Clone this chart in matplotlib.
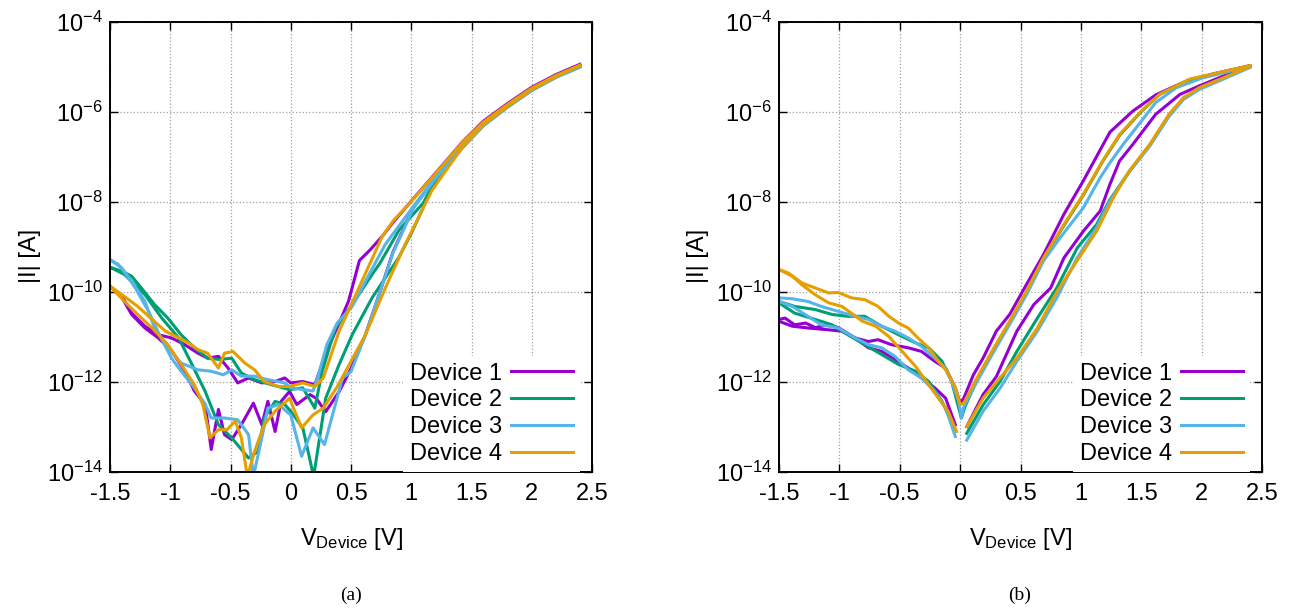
import numpy as np
import matplotlib
matplotlib.use("Agg")
import matplotlib.pyplot as plt
from matplotlib.ticker import NullLocator

plt.rcParams["font.family"] = ["Liberation Sans", "DejaVu Sans"]
plt.rcParams["mathtext.fontset"] = "custom"
plt.rcParams["mathtext.rm"] = "Liberation Sans"
plt.rcParams["mathtext.it"] = "Liberation Sans:italic"
plt.rcParams["mathtext.default"] = "regular"

nan = float("nan")

labels = ["Device 1", "Device 2", "Device 3", "Device 4"]
colors = ["#9400D3", "#009E73", "#56B4E9", "#E69F00"]

xticks = [-1.5, -1.0, -0.5, 0.0, 0.5, 1.0, 1.5, 2.0, 2.5]
xtick_labels = ["-1.5", "-1", "-0.5", "0", "0.5", "1", "1.5", "2", "2.5"]
yticks = [1e-14, 1e-12, 1e-10, 1e-8, 1e-6, 1e-4]

# ---- panel (a): log10 |I|, two branches per device ----
a1_up_v = [-1.5, -1.4, -1.32, -1.21, -1.1, -0.99, -0.88, -0.77, -0.69, -0.6,
           -0.52, -0.44, -0.35, -0.24, -0.13, -0.05, 0.0, 0.1, 0.2, 0.3, 0.4,
           0.48, 0.57, 0.66, 0.76, 0.85, 1.0, 1.24, 1.43, 1.6, 1.8, 2.0, 2.2,
           2.4]
a1_up_i = [-9.87, -10.1, -10.47, -10.76, -10.95, -11.02, -11.17, -11.36,
           -11.47, -11.43, -11.69, -12.02, -11.91, -12.02, -11.99, -11.91,
           -12.02, -11.99, -12.06, -11.3, -10.7, -10.2, -9.3, -9.06, -8.76,
           -8.45, -7.98, -7.24, -6.65, -6.2, -5.81, -5.45, -5.17, -4.94]
a1_dn_v = [-1.5, -1.4, -1.32, -1.21, -1.1, -0.99, -0.88, -0.8, -0.71, -0.66,
           -0.6, -0.55, -0.49, -0.41, -0.31, -0.24, -0.19, -0.13, -0.08,
           -0.01, 0.05, 0.16, 0.21, 0.29, 0.4, 0.5, 0.62, 0.74, 0.85, 1.015,
           1.21, 1.43, 1.6, 1.8, 2.0, 2.2, 2.4]
a1_dn_i = [-9.87, -10.13, -10.5, -10.8, -11.02, -11.3, -11.76, -12.2, -12.5,
           -13.5, -12.61, -13.17, -13.28, -12.95, -12.47, -12.95, -12.43,
           -13.1, -12.43, -12.21, -12.5, -12.28, -12.36, -12.66, -12.22,
           -11.7, -10.95, -10.0, -9.1, -8.13, -7.43, -6.76, -6.28, -5.87,
           -5.5, -5.21, -4.97]

a2_up_v = [-1.5, -1.4, -1.32, -1.24, -1.13, -1.02, -0.91, -0.8, -0.69, -0.59,
           -0.49, -0.41, -0.3, -0.16, -0.01, 0.1, 0.2, 0.26, 0.37, 0.51,
           0.675, 0.74, 0.9, 1.1, 1.24, 1.43, 1.6, 1.8, 2.0, 2.2, 2.4]
a2_up_i = [-9.45, -9.54, -9.65, -9.91, -10.28, -10.58, -10.95, -11.24,
           -11.47, -11.5, -11.47, -11.8, -11.95, -12.06, -12.17, -12.13,
           -12.58, -11.77, -10.8, -10.28, -9.61, -9.36, -8.62, -8.02, -7.3,
           -6.7, -6.25, -5.85, -5.49, -5.2, -4.98]
a2_dn_v = [-1.5, -1.38, -1.21, -1.07, -0.93, -0.82, -0.71, -0.6, -0.49, -0.35,
           -0.27, -0.22, -0.13, -0.05, 0.0, 0.1, 0.19, 0.29, 0.4, 0.51, 0.675,
           0.895, 1.0, 1.21, 1.43, 1.6, 1.8, 2.0, 2.2, 2.4]
a2_dn_i = [-9.45, -9.61, -10.06, -10.58, -11.02, -11.61, -12.21, -12.95,
           -13.24, -13.69, -13.54, -12.8, -12.43, -12.5, -12.65, -13.02,
           -14.1, -12.36, -11.62, -10.95, -10.13, -9.24, -8.7, -7.48, -6.78,
           -6.3, -5.89, -5.52, -5.23, -5.0]

a3_up_v = [-1.5, -1.43, -1.32, -1.21, -1.13, -1.02, -0.91, -0.77, -0.66,
           -0.56, -0.49, -0.41, -0.3, -0.19, -0.05, 0.0, 0.185, 0.23, 0.3,
           0.385, 0.51, 0.65, 0.785, 1.0, 1.24, 1.43, 1.6, 1.8, 2.0, 2.2, 2.4]
a3_up_i = [-9.28, -9.39, -9.76, -10.21, -10.8, -11.24, -11.58, -11.73, -11.76,
           -11.84, -11.73, -11.87, -11.87, -11.95, -12.02, -12.13, -12.2,
           -11.84, -11.17, -10.69, -10.32, -9.61, -8.94, -8.16, -7.3, -6.7,
           -6.25, -5.85, -5.49, -5.2, -4.98]
a3_dn_v = [-1.5, -1.4, -1.29, -1.18, -1.09, -0.99, -0.91, -0.8, -0.71, -0.66,
           -0.55, -0.44, -0.35, -0.31, -0.24, -0.19, -0.1, -0.02, 0.0, 0.09,
           0.185, 0.28, 0.43, 0.5, 0.62, 0.74, 0.85, 1.015, 1.21, 1.43, 1.6,
           1.8, 2.0, 2.2, 2.4]
a3_dn_i = [-9.28, -9.47, -9.91, -10.43, -10.95, -11.47, -11.76, -12.13, -12.5,
           -12.8, -12.8, -12.84, -13.17, -14.1, -13.24, -12.58, -12.5, -12.69,
           -12.73, -13.65, -13.02, -13.39, -11.91, -11.77, -10.95, -10.0,
           -9.12, -8.15, -7.45, -6.78, -6.3, -5.89, -5.52, -5.23, -5.0]

a4_up_v = [-1.5, -1.38, -1.27, -1.15, -1.04, -0.93, -0.85, -0.77, -0.69, -0.6,
           -0.55, -0.48, -0.38, -0.3, -0.22, -0.1, -0.01, 0.1, 0.2, 0.27, 0.4,
           0.565, 0.76, 0.85, 1.0, 1.24, 1.43, 1.6, 1.8, 2.0, 2.2, 2.4]
a4_up_i = [-9.87, -10.1, -10.32, -10.61, -10.87, -11.02, -11.13, -11.28,
           -11.36, -11.69, -11.36, -11.32, -11.58, -11.73, -11.99, -12.1,
           -12.1, -12.02, -12.1, -11.91, -10.88, -9.91, -8.76, -8.42, -7.99,
           -7.25, -6.66, -6.22, -5.83, -5.47, -5.19, -4.96]
a4_dn_v = [-1.5, -1.38, -1.27, -1.15, -1.02, -0.89, -0.8, -0.73, -0.67, -0.6,
           -0.53, -0.46, -0.41, -0.36, -0.3, -0.22, -0.13, -0.01, 0.09, 0.185,
           0.27, 0.38, 0.47, 0.62, 0.785, 0.95, 1.17, 1.43, 1.6, 1.8, 2.0,
           2.2, 2.4]
a4_dn_i = [-9.87, -10.21, -10.5, -10.8, -11.17, -11.69, -12.06, -12.5, -13.24,
           -13.06, -13.06, -12.87, -13.24, -14.1, -13.54, -12.95, -12.65,
           -12.36, -13.02, -12.73, -12.58, -12.13, -11.69, -10.95, -9.91,
           -8.94, -7.75, -6.76, -6.28, -5.87, -5.5, -5.21, -4.97]

# ---- panel (b) ----
b1_up_v = [-1.5, -1.45, -1.37, -1.28, -1.2, -1.09, -1.01, -0.87, -0.76, -0.68,
           -0.57, -0.43, -0.32, -0.21, -0.12, -0.04, 0.0, 0.03, 0.11, 0.19,
           0.3, 0.41, 0.55, 0.69, 0.86, 1.02, 1.24, 1.43, 1.62, 1.85, 2.1,
           2.4]
b1_up_i = [-10.61, -10.58, -10.73, -10.69, -10.79, -10.73, -10.79, -11.02,
           -11.1, -11.06, -11.17, -11.24, -11.32, -11.54, -11.69, -12.13,
           -12.47, -12.36, -11.84, -11.47, -10.87, -10.5, -9.83, -9.17, -8.27,
           -7.53, -6.45, -5.98, -5.62, -5.34, -5.15, -4.97]
b1_dn_v = [-1.5, -1.39, -1.26, -1.09, -0.98, -0.87, -0.76, -0.65, -0.54,
           -0.43, -0.32, -0.21, -0.12, -0.04, 0.0, 0.055, 0.19, 0.3, 0.47,
           0.61, 0.75, 0.86, 1.02, 1.16, 1.24, 1.32, 1.43, 1.62, 1.82, 1.98,
           2.18, 2.4]
b1_dn_i = [-10.65, -10.76, -10.8, -10.84, -10.87, -11.02, -11.24, -11.32,
           -11.5, -11.69, -11.91, -12.13, -12.36, -12.95, nan, -12.99, -12.28,
           -11.88, -10.87, -10.28, -9.91, -9.24, -8.65, -8.2, -7.61, -7.09,
           -6.72, -6.05, -5.61, -5.42, -5.2, -4.99]

b2_up_v = [-1.5, -1.37, -1.2, -1.06, -0.93, -0.79, -0.65, -0.51, -0.37, -0.26,
           -0.15, -0.07, 0.01, 0.04, 0.14, 0.28, 0.41, 0.55, 0.69, 0.86, 1.02,
           1.18, 1.32, 1.49, 1.65, 1.9, 2.4]
b2_up_i = [-10.21, -10.32, -10.39, -10.5, -10.54, -10.54, -10.76, -10.95,
           -11.13, -11.24, -11.54, -11.99, -12.8, -12.55, -11.95, -11.27,
           -10.68, -10.0, -9.26, -8.52, -7.85, -7.1, -6.52, -6.02, -5.61,
           -5.28, -4.98]
b2_dn_v = [-1.5, -1.37, -1.2, -1.06, -0.93, -0.79, -0.65, -0.51, -0.37, -0.26,
           -0.15, -0.04, 0.0, 0.055, 0.19, 0.33, 0.47, 0.64, 0.8, 0.97, 1.13,
           1.24, 1.4, 1.57, 1.73, 1.85, 1.98, 2.18, 2.4]
b2_dn_i = [-10.24, -10.47, -10.61, -10.73, -10.95, -11.17, -11.39, -11.61,
           -11.76, -11.99, -12.43, -13.06, nan, -13.14, -12.51, -11.99,
           -11.32, -10.58, -9.91, -9.02, -8.5, -7.95, -7.33, -6.74, -6.07,
           -5.7, -5.48, -5.25, -5.0]

b3_up_v = [-1.5, -1.39, -1.26, -1.15, -1.01, -0.87, -0.76, -0.65, -0.54,
           -0.43, -0.32, -0.21, -0.12, -0.07, -0.01, 0.01, 0.03, 0.14, 0.28,
           0.41, 0.55, 0.69, 0.83, 1.02, 1.16, 1.24, 1.35, 1.49, 1.62, 1.79,
           2.01, 2.4]
b3_up_i = [-10.13, -10.15, -10.21, -10.32, -10.43, -10.54, -10.61, -10.76,
           -10.87, -11.02, -11.21, -11.47, -11.69, -11.99, -12.45, -12.8,
           -12.55, -11.99, -11.32, -10.72, -10.06, -9.31, -8.79, -8.13, -7.46,
           -7.13, -6.72, -6.24, -5.79, -5.46, -5.24, -4.99]
b3_dn_v = [-1.5, -1.39, -1.26, -1.15, -1.01, -0.87, -0.76, -0.65, -0.54,
           -0.43, -0.32, -0.21, -0.12, -0.04, 0.0, 0.055, 0.19, 0.33, 0.47,
           0.64, 0.8, 0.97, 1.13, 1.24, 1.4, 1.57, 1.73, 1.85, 1.98, 2.18, 2.4]
b3_dn_i = [-10.21, -10.32, -10.54, -10.73, -10.8, -11.02, -11.17, -11.24,
           -11.43, -11.73, -11.91, -12.21, -12.58, -13.21, nan, -13.29,
           -12.65, -12.14, -11.54, -10.87, -10.13, -9.24, -8.57, -7.98, -7.33,
           -6.76, -6.1, -5.72, -5.5, -5.27, -5.01]

b4_up_v = [-1.5, -1.42, -1.31, -1.2, -1.09, -1.01, -0.9, -0.79, -0.68, -0.59,
           -0.51, -0.43, -0.35, -0.26, -0.18, -0.11, -0.04, 0.0, 0.03, 0.14,
           0.28, 0.41, 0.55, 0.69, 0.86, 1.02, 1.18, 1.32, 1.49, 1.65, 1.9,
           2.4]
b4_up_i = [-9.5, -9.58, -9.8, -9.91, -10.02, -10.01, -10.13, -10.17, -10.32,
           -10.54, -10.69, -10.8, -11.02, -11.24, -11.54, -11.76, -12.13,
           -12.5, -12.47, -11.91, -11.24, -10.65, -9.98, -9.24, -8.5, -7.83,
           -7.09, -6.5, -6.01, -5.61, -5.27, -4.97]
b4_dn_v = [-1.5, -1.39, -1.31, -1.2, -1.09, -0.98, -0.9, -0.81, -0.7, -0.59,
           -0.48, -0.37, -0.26, -0.18, -0.1, -0.03, 0.0, 0.055, 0.19, 0.33,
           0.47, 0.64, 0.8, 0.97, 1.13, 1.27, 1.4, 1.57, 1.73, 1.85, 1.98,
           2.18, 2.4]
b4_dn_i = [-9.5, -9.65, -9.84, -10.06, -10.24, -10.32, -10.47, -10.65, -10.76,
           -10.99, -11.32, -11.65, -12.06, -12.36, -12.65, -13.1, nan, -12.99,
           -12.36, -11.91, -11.47, -10.8, -10.0, -9.3, -8.65, -7.9, -7.31,
           -6.72, -6.05, -5.68, -5.46, -5.24, -4.99]

panel_a = [(a1_up_v, a1_up_i, a1_dn_v, a1_dn_i),
           (a2_up_v, a2_up_i, a2_dn_v, a2_dn_i),
           (a3_up_v, a3_up_i, a3_dn_v, a3_dn_i),
           (a4_up_v, a4_up_i, a4_dn_v, a4_dn_i)]
panel_b = [(b1_up_v, b1_up_i, b1_dn_v, b1_dn_i),
           (b2_up_v, b2_up_i, b2_dn_v, b2_dn_i),
           (b3_up_v, b3_up_i, b3_dn_v, b3_dn_i),
           (b4_up_v, b4_up_i, b4_dn_v, b4_dn_i)]

FS = 17


def draw_panel(ax, curves):

    for (uv, ui, dv, di), lab, col in zip(curves, labels, colors):
        ax.plot(uv, 10.0 ** np.array(ui), color=col, lw=2.2, label=lab,
                solid_joinstyle="round")
        ax.plot(dv, 10.0 ** np.array(di), color=col, lw=2.2,
                solid_joinstyle="round")

    ax.set_yscale("log")
    ax.set_xlim(-1.5, 2.5)
    ax.set_ylim(1e-14, 1e-4)
    ax.set_xticks(xticks)
    ax.set_xticklabels(xtick_labels)
    ax.set_yticks(yticks)
    ax.yaxis.set_minor_locator(NullLocator())
    ax.tick_params(which="both", direction="in", top=True, right=True,
                   length=6, width=1.0, labelsize=FS)
    ax.tick_params(axis="y", pad=5)
    ax.tick_params(axis="x", pad=8)
    for sp in ax.spines.values():
        sp.set_linewidth(1.4)
    ax.grid(True, color="#a0a0a0", ls=":", lw=0.9)

    ax.set_xlabel(r"V$_{\mathregular{Device}}$ [V]", fontsize=FS)
    ax.xaxis.set_label_coords(0.5, -0.12)
    ax.set_ylabel("|I| [A]", fontsize=FS, va="center")
    ax.yaxis.set_label_coords(-0.167, 0.48)

    leg = ax.legend(loc="lower right", bbox_to_anchor=(0.975, 0.0),
                    markerfirst=False, frameon=True, fancybox=False,
                    framealpha=1.0, facecolor="white", edgecolor="none",
                    fontsize=FS, handlelength=2.6, handletextpad=0.4,
                    labelspacing=0.2, borderpad=0.3, borderaxespad=0.0)
    leg.set_zorder(5)


fig = plt.figure(figsize=(12.93, 6.09), dpi=100)
ax_a = fig.add_axes([110 / 1293, 137 / 609, 482 / 1293, 450 / 609])
ax_b = fig.add_axes([779 / 1293, 137 / 609, 483 / 1293, 450 / 609])

draw_panel(ax_a, panel_a)
draw_panel(ax_b, panel_b)

fig.text(351 / 1293, 1 - 595 / 609, "(a)", ha="center", va="center",
         family=["Liberation Serif", "DejaVu Serif"], fontsize=14)
fig.text(1020 / 1293, 1 - 595 / 609, "(b)", ha="center", va="center",
         family=["Liberation Serif", "DejaVu Serif"], fontsize=14)

fig.savefig("out.png", dpi=100)
